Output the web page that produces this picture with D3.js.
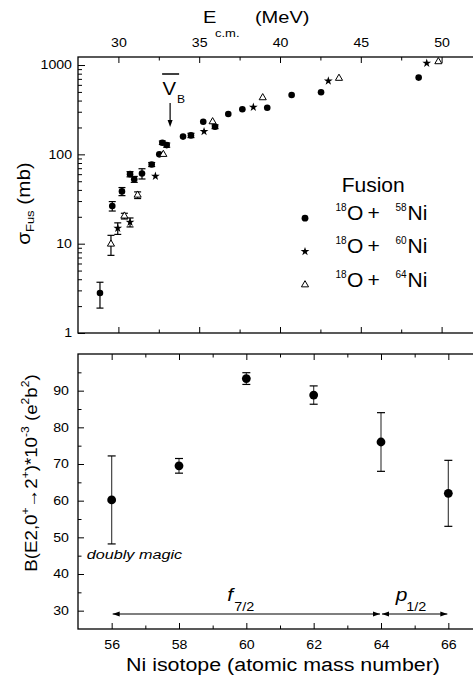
<!DOCTYPE html>
<html>
<head>
<meta charset="utf-8">
<script src="https://cdn.jsdelivr.net/npm/d3@7"></script>
<style>
  body { margin: 0; background: #fff; }
  svg { display: block; }
  text { font-family: "Liberation Sans", Arial, sans-serif; fill: #000; }
</style>
</head>
<body>
<svg id="chart" width="473" height="681"></svg>
<script>
// fusion cross sections, E_cm (MeV) / sigma (mb) / error (mb)
var ni58E   = [28.86, 29.62, 30.22, 30.72, 30.98, 31.46, 32.06, 32.53, 32.72, 32.99, 34.0, 34.49, 35.25, 35.98, 36.8, 37.67, 39.21, 40.72, 42.54, 48.58];
var ni58Sig = [2.8, 26.4, 38.5, 60, 52.6, 61, 77, 100, 135, 127, 158, 163, 232, 204, 283, 320, 333, 462, 496, 723];
var ni58Err = [0.9, 3.2, 4, 4, 4, 8, 4, 0, 6, 7, 0, 9, 0, 10, 0, 0, 0, 0, 0, 0];

var ni60E   = [29.96, 30.72, 32.29, 35.3, 38.35, 42.99, 49.08];
var ni60Sig = [14.9, 17.4, 57, 180, 337, 664, 1047];
var ni60Err = [2.2, 2, 0, 0, 0, 0, 0];

var ni64E   = [29.54, 30.37, 31.19, 32.78, 35.83, 38.93, 43.65, 49.8];
var ni64Sig = [9.9, 20.4, 35, 100, 232, 431, 711, 1091];
var ni64Err = [2.5, 1.5, 3, 0, 0, 0, 0, 0];

var barrier = 33.2; // V_B arrow position (MeV)

// B(E2) of the Ni isotopes
var isotopes = [56, 58, 60, 62, 64, 66];
var be2      = [60.2, 69.5, 93.3, 88.8, 76.0, 62.0];
var be2Err   = [12, 2, 1.6, 2.5, 8, 9];

var shells = [
  { name: 'f', sub: '7/2', from: 56, to: 64 },
  { name: 'p', sub: '1/2', from: 64, to: 66 }
];

var eTicks = [30, 35, 40, 45, 50];
var eMinor = [32.5, 37.5, 42.5, 47.5];
var sigTicks = [1, 10, 100, 1000];
var isoTicks = [56, 58, 60, 62, 64, 66];
var isoMinor = [57, 59, 61, 63, 65];
var be2Ticks = [30, 40, 50, 60, 70, 80, 90];
var be2Minor = [35, 45, 55, 65, 75, 85, 95];

var legendItems = [
  { sym: 'circle', mass: '58' },
  { sym: 'star', mass: '60' },
  { sym: 'triangle', mass: '64' }
];

var FONT = '"Liberation Sans", Arial, sans-serif';
var SX = 1.18; // the source font runs a bit wider than Arial

var svg = d3.select('#chart');

var xTop = d3.scaleLinear().domain([27.5, 52.5]).range([78, 482]);
var yTop = d3.scaleLog().domain([1, 1230]).range([333, 57]);
var xBot = d3.scaleLinear().domain([55, 67]).range([78, 482]);
var yBot = d3.scaleLinear().domain([25, 100]).range([629, 354]);

var sigMinor = [];
[1, 10, 100].forEach(function (d) {
  for (var k = 2; k <= 9; k++) sigMinor.push(d * k);
});

function widen(sel, sx) {
  sel.each(function () {
    var t = d3.select(this);
    var x = +t.attr('x') || 0, y = +t.attr('y') || 0;
    t.attr('x', null).attr('y', null)
      .attr('transform', 'translate(' + x + ',' + y + ') scale(' + sx + ',1)');
  });
}

function axis(gen, scale, vals, size, tr, fmt, pad) {
  var g = svg.append('g').attr('transform', tr)
    .call(gen(scale).tickValues(vals).tickSize(size).tickPadding(pad || 3)
      .tickFormat(fmt || function () { return ''; }));
  g.attr('font-family', FONT).attr('font-size', 12);
  g.select('.domain').remove();
  g.selectAll('line').attr('stroke', '#000').attr('stroke-width', 1);
  g.selectAll('text').attr('fill', '#000');
  if (fmt) widen(g.selectAll('text'), SX);
  return g;
}

var fmtD = d3.format('d');

// ---------- top panel axes ----------
axis(d3.axisTop, xTop, eTicks, -6, 'translate(0,57)', fmtD, 10);
axis(d3.axisTop, xTop, eMinor, -3.5, 'translate(0,57)');
axis(d3.axisBottom, xTop, eTicks, -6, 'translate(0,333)');
axis(d3.axisBottom, xTop, eMinor, -3.5, 'translate(0,333)');
axis(d3.axisLeft, yTop, sigTicks, -7, 'translate(78,0)', fmtD, 6);
axis(d3.axisLeft, yTop, sigMinor, -4, 'translate(78,0)');

// ---------- bottom panel axes ----------
axis(d3.axisBottom, xBot, isoTicks, -6, 'translate(0,629)', fmtD, 11);
axis(d3.axisBottom, xBot, isoMinor, -3.5, 'translate(0,629)');
axis(d3.axisTop, xBot, isoTicks, -6, 'translate(0,354)');
axis(d3.axisTop, xBot, isoMinor, -3.5, 'translate(0,354)');
axis(d3.axisLeft, yBot, be2Ticks, -6, 'translate(78,0)', fmtD, 9);
axis(d3.axisLeft, yBot, be2Minor, -3.5, 'translate(78,0)');

// frames (right edge runs off the page like the source)
svg.append('rect').attr('x', 78).attr('y', 57).attr('width', 404).attr('height', 276)
  .attr('fill', 'none').attr('stroke', '#000').attr('stroke-width', 1.3);
svg.append('rect').attr('x', 78).attr('y', 354).attr('width', 404).attr('height', 275)
  .attr('fill', 'none').attr('stroke', '#000').attr('stroke-width', 1.3);

// ---------- markers ----------
function errBars(g, xs, ys, errs, xs_, ys_, cap, col) {
  var idx = d3.range(xs.length).filter(function (i) { return errs[i] > 0; });
  var e = g.append('g').attr('stroke', '#000').attr('stroke-width', 1.2);
  e.selectAll('line.v').data(idx).join('line')
    .attr('x1', function (i) { return xs_(xs[i]); })
    .attr('x2', function (i) { return xs_(xs[i]); })
    .attr('y1', function (i) { return ys_(ys[i] - errs[i]); })
    .attr('y2', function (i) { return ys_(ys[i] + errs[i]); })
    .attr('stroke', col || '#000');
  [-1, 1].forEach(function (s) {
    e.append('g').selectAll('line').data(idx).join('line')
      .attr('x1', function (i) { return xs_(xs[i]) - cap; })
      .attr('x2', function (i) { return xs_(xs[i]) + cap; })
      .attr('y1', function (i) { return ys_(ys[i] + s * errs[i]); })
      .attr('y2', function (i) { return ys_(ys[i] + s * errs[i]); });
  });
}

var star = d3.symbol().type(d3.symbolStar).size(24);
var tri = d3.symbol().type(d3.symbolTriangle).size(22);

var plotTop = svg.append('g');
errBars(plotTop, ni58E, ni58Sig, ni58Err, xTop, yTop, 3.5);
errBars(plotTop, ni60E, ni60Sig, ni60Err, xTop, yTop, 3.5);
errBars(plotTop, ni64E, ni64Sig, ni64Err, xTop, yTop, 3.5);

plotTop.append('g').selectAll('circle').data(d3.range(ni58E.length)).join('circle')
  .attr('cx', function (i) { return xTop(ni58E[i]); })
  .attr('cy', function (i) { return yTop(ni58Sig[i]); })
  .attr('r', 3.3).attr('fill', '#000');

plotTop.append('g').selectAll('path').data(d3.range(ni60E.length)).join('path')
  .attr('d', star)
  .attr('transform', function (i) { return 'translate(' + xTop(ni60E[i]) + ',' + yTop(ni60Sig[i]) + ')'; })
  .attr('fill', '#000');

plotTop.append('g').selectAll('path').data(d3.range(ni64E.length)).join('path')
  .attr('d', tri)
  .attr('transform', function (i) { return 'translate(' + xTop(ni64E[i]) + ',' + yTop(ni64Sig[i]) + ')'; })
  .attr('fill', '#fff').attr('stroke', '#000').attr('stroke-width', 1);

// V_B arrow
var vbX = xTop(barrier);
svg.append('line').attr('x1', vbX).attr('x2', vbX).attr('y1', 103).attr('y2', 121)
  .attr('stroke', '#000').attr('stroke-width', 1.2);
svg.append('path').attr('d', 'M' + (vbX - 2.5) + ',120 L' + (vbX + 2.5) + ',120 L' + vbX + ',127 Z')
  .attr('fill', '#000');
svg.append('line').attr('x1', vbX - 8).attr('x2', vbX + 9).attr('y1', 74).attr('y2', 74)
  .attr('stroke', '#000').attr('stroke-width', 1.5);
svg.append('text').attr('transform', 'translate(' + (vbX - 7.7) + ',95) scale(1.1,1)')
  .attr('font-size', 18.5).text('V');
svg.append('text').attr('transform', 'translate(' + (vbX + 7) + ',102.7) scale(1.1,1)')
  .attr('font-size', 11).text('B');

// legend
svg.append('text').attr('x', 341.7).attr('y', 191.7).attr('font-size', 21).text('Fusion');
legendItems.forEach(function (d, i) {
  var y = 220 + i * 33.3, sy = y - 1.8;
  if (d.sym === 'circle') {
    svg.append('circle').attr('cx', 305).attr('cy', sy).attr('r', 3.4).attr('fill', '#000');
  } else if (d.sym === 'star') {
    svg.append('path').attr('d', star).attr('transform', 'translate(305,' + sy + ')').attr('fill', '#000');
  } else {
    svg.append('path').attr('d', tri).attr('transform', 'translate(305,' + sy + ')')
      .attr('fill', '#fff').attr('stroke', '#000');
  }
  svg.append('text').attr('x', 335.5).attr('y', y - 9).attr('font-size', 10).text('18');
  svg.append('text').attr('x', 347).attr('y', y).attr('font-size', 21).text('O');
  svg.append('text').attr('x', 367.5).attr('y', y).attr('font-size', 21).text('+');
  svg.append('text').attr('x', 395.5).attr('y', y - 9).attr('font-size', 10).text(d.mass);
  svg.append('text').attr('x', 407.5).attr('y', y).attr('font-size', 21).text('Ni');
});

// ---------- bottom panel markers ----------
var plotBot = svg.append('g');
errBars(plotBot, isotopes, be2, be2Err, xBot, yBot, 4, '#444');
plotBot.append('g').selectAll('circle').data(d3.range(isotopes.length)).join('circle')
  .attr('cx', function (i) { return xBot(isotopes[i]); })
  .attr('cy', function (i) { return yBot(be2[i]); })
  .attr('r', 4.4).attr('fill', '#000');

svg.append('text').attr('transform', 'translate(86.7,558.5) scale(1.2,1)')
  .attr('font-size', 13.5).attr('font-style', 'italic').text('doubly magic');

// shell arrows
var arrowY = 614;
function head(x, dir) {
  return 'M' + x + ',' + arrowY + ' L' + (x - dir * 7) + ',' + (arrowY - 2.6) +
    ' L' + (x - dir * 7) + ',' + (arrowY + 2.6) + ' Z';
}
shells.forEach(function (s) {
  var x1 = xBot(s.from), x2 = xBot(s.to);
  svg.append('line').attr('x1', x1 + 1).attr('x2', x2 - 1).attr('y1', arrowY).attr('y2', arrowY)
    .attr('stroke', '#000').attr('stroke-width', 1.2);
  svg.append('path').attr('d', head(x1 + 1, -1)).attr('fill', '#000');
  svg.append('path').attr('d', head(x2 - 1, 1)).attr('fill', '#000');
  var lx = xBot((s.from + s.to) / 2) - 19;
  svg.append('text').attr('transform', 'translate(' + lx + ',600.7) scale(1.1,1)')
    .attr('font-size', 19).attr('font-style', 'italic').text(s.name);
  svg.append('text').attr('transform', 'translate(' + (lx + (s.name === 'f' ? 7 : 10.5)) + ',610.7) scale(1.2,1)')
    .attr('font-size', 12).text(s.sub);
});

// ---------- axis titles ----------
var tTop = svg.append('g').attr('transform', 'translate(203,23.3) scale(' + SX + ',1)');
tTop.append('text').attr('font-size', 17).text('E');
tTop.append('text').attr('x', 10.2).attr('y', 13.7).attr('font-size', 11).text('c.m.');
tTop.append('text').attr('x', 44).attr('font-size', 17).text('(MeV)');

svg.append('text').attr('transform', 'translate(283,671) scale(1.19,1)')
  .attr('text-anchor', 'middle').attr('font-size', 18)
  .text('Ni isotope (atomic mass number)');

var tSig = svg.append('text').attr('transform', 'translate(30,203.5) rotate(-90) scale(' + SX + ',1)')
  .attr('text-anchor', 'middle').attr('font-size', 17.5);
tSig.append('tspan').text('σ');
tSig.append('tspan').attr('font-size', 11).attr('dy', 4).text('Fus');
tSig.append('tspan').attr('dy', -4).text(' (mb)');

var tB = svg.append('text').attr('transform', 'translate(37,473) rotate(-90) scale(1.1,1)')
  .attr('text-anchor', 'middle').attr('font-size', 17);
tB.append('tspan').text('B(E2,0');
tB.append('tspan').attr('font-size', 11).attr('dy', -8).text('+');
tB.append('tspan').attr('dy', 8).text('\u2192');
tB.append('tspan').text('2');
tB.append('tspan').attr('font-size', 11).attr('dy', -8).text('+');
tB.append('tspan').attr('dy', 8).text(')*10');
tB.append('tspan').attr('font-size', 11).attr('dy', -8).text('-3');
tB.append('tspan').attr('dy', 8).text(' (e');
tB.append('tspan').attr('font-size', 11).attr('dy', -8).text('2');
tB.append('tspan').attr('dy', 8).text('b');
tB.append('tspan').attr('font-size', 11).attr('dy', -8).text('2');
tB.append('tspan').attr('dy', 8).text(')');
</script>
</body>
</html>
